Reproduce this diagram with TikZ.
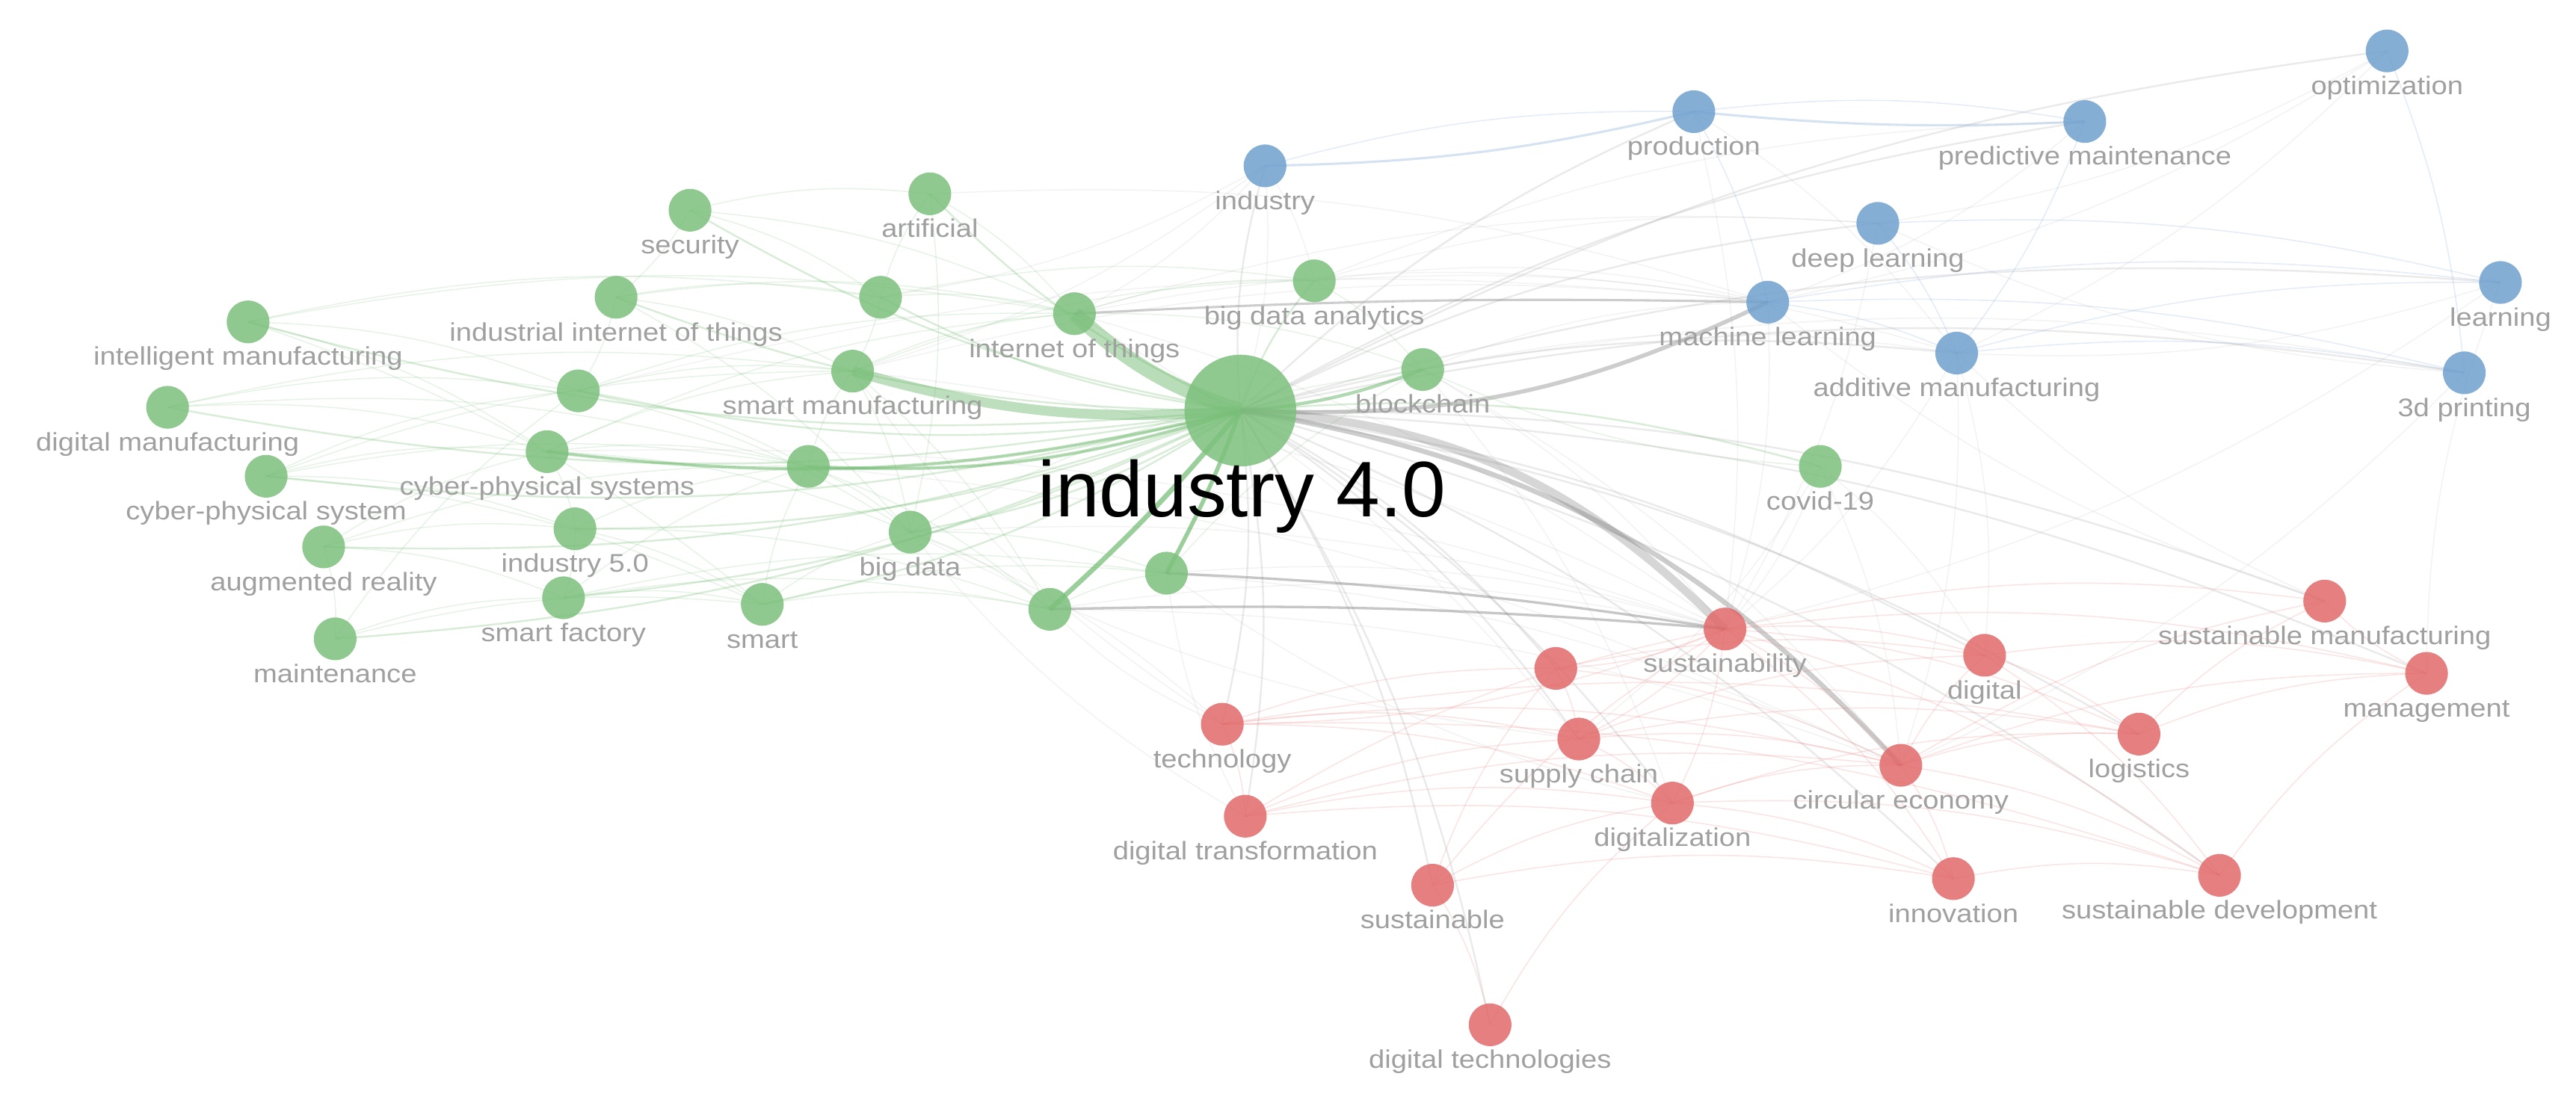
\documentclass[tikz,border=0pt]{standalone}
\usepackage{fontspec}
\setmainfont{Liberation Sans}
\newfontfamily\labfont[FakeStretch=1.12]{Liberation Sans}
\usetikzlibrary{calc}
\definecolor{cg}{RGB}{124,192,124}
\definecolor{cr}{RGB}{226,106,106}
\definecolor{cb}{RGB}{112,160,206}
\definecolor{labgray}{RGB}{160,160,160}
\definecolor{eg}{RGB}{100,180,100}
\definecolor{er}{RGB}{235,110,110}
\definecolor{eb}{RGB}{115,160,215}
\definecolor{ex}{RGB}{130,130,130}
\pgfdeclarelayer{bgfill}
\pgfdeclarelayer{edges}
\pgfdeclarelayer{labels}
\pgfsetlayers{bgfill,edges,main,labels}
\tikzset{
  kw/.style={circle, minimum size=26pt, inner sep=0pt, fill opacity=0.85, draw=none},
  kwlab/.style={anchor=base, text=labgray, font=\labfont\fontsize{15.5}{16}\selectfont, inner sep=0pt},
  gedge/.style={draw=eg, line width=0.7pt, draw opacity=0.15},
  redge/.style={draw=er, line width=0.7pt, draw opacity=0.18},
  bedge/.style={draw=eb, line width=0.7pt, draw opacity=0.2},
  xedge/.style={draw=ex, line width=0.7pt, draw opacity=0.09},
}
\newcommand\kwn[5]{%
  \node[kw, fill=#4] (#1) at (#2,#3) {};
  \begin{pgfonlayer}{labels}\node[kwlab] (#1-l) at (#2,#3+26.5) {#5};\end{pgfonlayer}}
\newcommand\kwu[4]{\node[kw, fill=#4] (#1) at (#2,#3) {};}
\begin{document}
\begin{tikzpicture}[x=1pt,y=-1pt]
\begin{pgfonlayer}{bgfill}
\fill[white] (0,0) rectangle (1568,666);
\end{pgfonlayer}
\useasboundingbox (0,0) rectangle (1568,666);
% green cluster
\kwn{sec}{420}{128}{cg}{security}
\kwn{art}{566}{118}{cg}{artificial}
\kwn{iiot}{375}{181}{cg}{industrial internet of things}
\kwn{intm}{151}{196}{cg}{intelligent manufacturing}
\kwn{digm}{102}{248}{cg}{digital manufacturing}
\kwn{cpsys}{162}{290}{cg}{cyber-physical system}
\kwn{ar}{197}{333}{cg}{augmented reality}
\kwn{maint}{204}{389}{cg}{maintenance}
\kwu{ga}{352}{238}{cg}
\kwn{cps}{333}{275}{cg}{cyber-physical systems}
\kwn{ifive}{350}{322}{cg}{industry 5.0}
\kwn{sf}{343}{364}{cg}{smart factory}
\kwn{smart}{464}{368}{cg}{smart}
\kwu{gb}{492}{284}{cg}
\kwu{gc}{536}{181}{cg}
\kwn{sm}{519}{226}{cg}{smart manufacturing}
\kwn{iot}{654}{191}{cg}{internet of things}
\kwn{bd}{554}{324}{cg}{big data}
\kwu{gd}{639}{371}{cg}
\kwu{gee}{710}{349}{cg}
\kwn{bda}{800}{171}{cg}{big data analytics}
\kwn{bc}{866}{225}{cg}{blockchain}
\kwn{covid}{1108}{284}{cg}{covid-19}
\node[kw, fill=cg, minimum size=68pt] (ifour) at (755,250) {};
\begin{pgfonlayer}{labels}
\node[anchor=base, inner sep=0pt, font=\fontsize{48}{50}\selectfont, text=black] (ifour-l) at (756,314.7) {industry 4.0};
\end{pgfonlayer}
% blue cluster
\kwn{ind}{770}{101}{cb}{industry}
\kwn{prod}{1031}{68}{cb}{production}
\kwn{pm}{1269}{74}{cb}{predictive maintenance}
\kwn{opt}{1453}{31}{cb}{optimization}
\kwn{dl}{1143}{136}{cb}{deep learning}
\kwn{ml}{1076}{184}{cb}{machine learning}
\kwn{am}{1191}{215}{cb}{additive manufacturing}
\kwn{learn}{1522}{172}{cb}{learning}
\kwn{pthree}{1500}{227}{cb}{3d printing}
% red cluster
\kwn{sman}{1415}{366}{cr}{sustainable manufacturing}
\kwn{mgmt}{1477}{410}{cr}{management}
\kwn{sus}{1050}{383}{cr}{sustainability}
\kwu{ra}{947}{407}{cr}
\kwn{dig}{1208}{399}{cr}{digital}
\kwn{tech}{744}{441}{cr}{technology}
\kwn{sc}{961}{450}{cr}{supply chain}
\kwn{log}{1302}{447}{cr}{logistics}
\kwn{ce}{1157}{466}{cr}{circular economy}
\kwn{digz}{1018}{489}{cr}{digitalization}
\kwn{dt}{758}{497}{cr}{digital transformation}
\kwn{sust}{872}{539}{cr}{sustainable}
\kwn{inn}{1189}{535}{cr}{innovation}
\kwn{sd}{1351}{533}{cr}{sustainable development}
\kwn{dtech}{907}{624}{cr}{digital technologies}
% edges
\begin{pgfonlayer}{edges}
\foreach \b in {sec,art,iiot,intm,digm,cpsys,ar,maint,ga,cps,ifive,sf,smart,gb,gc,bd,bda,covid}
  {\draw[gedge, draw opacity=0.25, line width=1.1pt] (ifour.center) to[bend left=10] (\b.center);}
\foreach \b in {ind,prod,pm,opt,dl,am,learn,pthree,sman,mgmt,ra,dig,tech,sc,log,digz,dt,sust,inn,sd,dtech}
  {\draw[xedge, draw opacity=0.16, line width=1.1pt] (ifour.center) to[bend left=10] (\b.center);}
\draw[gedge, draw opacity=0.45, line width=9pt] (ifour.center) to[bend left=12] (iot.center);
\draw[gedge, draw opacity=0.42, line width=6pt] (ifour.center) to[bend left=10] (sm.center);
\draw[gedge, draw opacity=0.65, line width=3pt] (ifour.center) to[bend left=4] (gd.center);
\draw[gedge, draw opacity=0.65, line width=2.5pt] (ifour.center) to[bend left=4] (gee.center);
\draw[gedge, draw opacity=0.5, line width=2pt] (ifour.center) to[bend right=8] (bc.center);
\draw[gedge, draw opacity=0.4, line width=2pt] (ifour.center) to[bend left=10] (cps.center);
\draw[gedge, draw opacity=0.4, line width=2pt] (ifour.center) to[bend left=10] (gb.center);
\draw[xedge, draw opacity=0.32, line width=5pt] (ifour.center) to[bend left=21] (sus.center);
\draw[xedge, draw opacity=0.4, line width=3pt] (ifour.center) to[bend left=19] (ce.center);
\draw[xedge, draw opacity=0.4, line width=2.5pt] (ifour.center) to[bend right=14] (ml.center);
\foreach \a/\b in {intm/iot,intm/ga,intm/cps,intm/gc,intm/smart,digm/ga,digm/sm,digm/cps,digm/gb,cpsys/ga,cpsys/cps,cpsys/ifive,cpsys/smart,cpsys/sm,cpsys/gb,ar/cps,ar/sf,ar/maint,ar/ifive,ar/gb,maint/sf,maint/ga,maint/smart,sec/iiot,sec/art,sec/iot,sec/gc,iiot/gc,iiot/sm,iiot/ga,iiot/iot,iiot/bd,ga/sm,ga/gb,ga/iot,ga/bd,cps/gb,cps/sm,cps/iot,cps/bd,cps/ifive,ifive/gb,ifive/sf,ifive/smart,ifive/gd,sf/smart,sf/gd,sf/gb,sf/gee,smart/gb,smart/gd,smart/bd,smart/gee,gb/sm,gb/gd,gb/bd,gc/sm,gc/iot,gc/art,art/iot,art/bd,sm/iot,sm/bd,sm/bda,bd/gd,bd/gee,gd/gee,iot/bda,iot/bc,bd/bc,bda/bc,covid/bc,gee/bc,gc/bda,sm/gd}
  {\draw[gedge] (\a.center) to[bend left=10] (\b.center);}
\foreach \a/\b in {ind/prod,prod/pm,dl/learn,ml/learn,am/learn,ml/pthree,am/pthree,dl/am,prod/ml,pm/am,ml/am,opt/pthree}
  {\draw[bedge] (\a.center) to[bend left=8] (\b.center);}
\draw[bedge, draw opacity=0.3, line width=1.4pt] (ind.center) to[bend right=6] (prod.center);
\draw[bedge, draw opacity=0.3, line width=1.4pt] (prod.center) to[bend right=4] (pm.center);
\foreach \a/\b in {iot/ml,iot/dl,bda/ml,bda/am,bc/ml,bc/sus,bc/ce,gd/sus,gee/sus,gee/ce,gd/ce,sm/sus,tech/gd,tech/sm,dt/gee,dt/bd,covid/sus,covid/sc,ind/sm,ind/iot,ind/gc,ind/bda,prod/am,pm/ml,opt/ml,opt/am,opt/dl,ml/sus,am/sus,am/ce,am/dig,learn/am,pthree/dl,sman/am,sman/ml,mgmt/learn,bda/dl,bc/am,iot/sus,sm/ml,ga/ml,cps/sus,gb/ce,bd/sus,bd/tech,art/ml,covid/ce,covid/dig,sc/bd,digz/gee,ind/ifour,bda/pm,bc/pthree,learn/sus,pthree/ce,prod/sus,dl/sus,bc/digz,iot/sc}
  {\draw[xedge] (\a.center) to[bend left=10] (\b.center);}
\draw[xedge, draw opacity=0.45, line width=1.5pt] (gd.center) to[bend left=3] (sus.center);
\draw[xedge, draw opacity=0.45, line width=1.5pt] (gee.center) to[bend left=3] (sus.center);
\draw[xedge, draw opacity=0.4, line width=1.4pt] (iot.center) to[bend left=2] (ml.center);
\foreach \a/\b in {sus/sman,sus/dig,sus/mgmt,sus/sc,sus/ra,sus/ce,sus/log,sus/tech,sus/digz,sus/sd,sus/inn,ra/sc,ra/dig,tech/sc,tech/ce,tech/log,tech/dt,tech/digz,tech/ra,dt/digz,dt/sc,dt/ce,dt/sus,sc/ce,sc/digz,sc/dig,sust/digz,sust/inn,sust/ra,sust/sus,sust/dtech,dtech/digz,digz/ce,digz/inn,digz/sd,digz/log,ce/log,ce/sd,ce/inn,ce/dig,ce/mgmt,ce/sman,dig/log,dig/mgmt,dig/sd,log/mgmt,log/sman,sd/mgmt,inn/sd,mgmt/sman,dt/inn,tech/sd,sc/log,ra/ce}
  {\draw[redge] (\a.center) to[bend left=10] (\b.center);}
\end{pgfonlayer}
\end{tikzpicture}
\end{document}
